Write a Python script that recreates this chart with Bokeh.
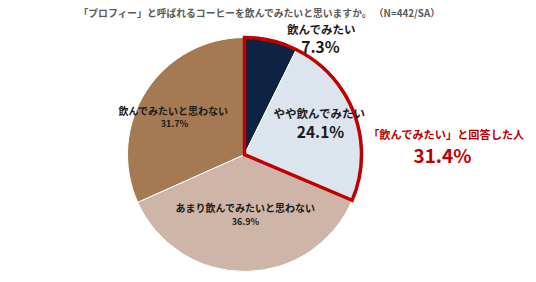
import math
from bokeh.plotting import figure
from bokeh.models import Range1d, ColumnDataSource
from bokeh.core.properties import value
from bokeh.embed import file_html
from bokeh.resources import INLINE

categories = ["飲んでみたい", "やや飲んでみたい", "あまり飲んでみたいと思わない", "飲んでみたいと思わない"]
values = [7.3, 24.1, 36.9, 31.7]
colors = ["#0E2341", "#DCE4EE", "#CFB5A7", "#A57A53"]
title_text = "「プロフィー」と呼ばれるコーヒーを飲んでみたいと思いますか。 （N=442/SA）"
callout_text = "「飲んでみたい」と回答した人"

W, H = 536, 282
FONT = "Noto Sans CJK JP"

def Y(y):
    return H - y

p = figure(width=W, height=H, x_range=Range1d(0, W), y_range=Range1d(0, H),
           x_axis_type=None, y_axis_type=None, toolbar_location=None,
           output_backend="svg", min_border=0, outline_line_color=None)
p.grid.visible = False
p.background_fill_color = "white"
p.border_fill_color = "white"

cx, cy, r = 244, Y(154), 117
total = sum(values)
starts, ends = [], []
c = 0.0
for v in values:
    c0 = c / total
    c += v
    c1 = c / total
    starts.append(math.pi / 2 - 2 * math.pi * c1)
    ends.append(math.pi / 2 - 2 * math.pi * c0)

src = ColumnDataSource(dict(x=[cx] * 4, y=[cy] * 4, s=starts, e=ends, color=colors))
p.wedge(x="x", y="y", radius=r, start_angle="s", end_angle="e", fill_color="color",
        line_color="white", line_width=1, source=src)

# red outline around the "want to drink" slices
want = values[0] + values[1]
p.wedge(x=cx, y=cy, radius=r, start_angle=math.pi / 2 - 2 * math.pi * want / total,
        end_angle=math.pi / 2, fill_alpha=0, line_color="#C00000", line_width=3.5,
        line_join="miter")

def txt(x, y, s, size, color="#1A1A1A", style="bold", align="center"):
    p.text(x=[x], y=[Y(y)], text=[s], text_font=value(FONT), text_font_size=f"{size}px",
           text_font_style=style, text_color=color, text_align=align,
           text_baseline="middle")

txt(78, 12, title_text, 9.8, color="#595959", align="left")

txt(321, 28, categories[0], 11.5)
txt(320, 45, f"{values[0]:.1f}%", 15.5)
txt(319, 112, categories[1], 11.5)
txt(320, 130, f"{values[1]:.1f}%", 15.5)
txt(245, 207, categories[2], 10)
txt(245, 221, f"{values[2]:.1f}%", 9)
txt(173, 110, categories[3], 10)
txt(174, 123, f"{values[3]:.1f}%", 9)

txt(446, 133, callout_text, 11.2, color="#C00000")
txt(442, 154, f"{want:.1f}%", 19, color="#C00000")

open("out.html", "w").write(file_html(p, INLINE))
